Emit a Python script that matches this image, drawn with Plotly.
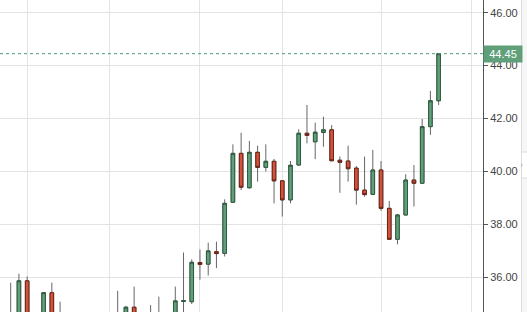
import plotly.graph_objects as go

# Daily OHLC values
opens = [34.30, 34.55, 35.86, 34.50, 34.30, 35.41, 34.60, 34.10, 33.80, 33.50,
         33.80, 34.20, 33.90, 34.30, 34.60, 34.86, 34.50, 34.20, 34.50, 34.40,
         34.30, 35.08, 35.07, 36.55, 36.49, 36.96, 36.90, 38.83, 40.68, 39.38,
         40.72, 40.15, 40.38, 39.64, 38.92, 40.24, 41.44, 41.12, 41.47, 41.57,
         40.42, 40.39, 40.12, 39.29, 39.13, 40.05, 38.60, 37.43, 38.35, 39.67,
         39.55, 41.69, 42.67]
highs = [35.79, 36.13, 36.02, 34.65, 35.43, 35.79, 35.07, 34.50, 34.20, 34.00,
         34.40, 34.60, 34.50, 35.48, 34.91, 35.64, 34.60, 34.94, 35.26, 34.65,
         35.64, 36.93, 36.67, 37.04, 37.30, 37.34, 38.94, 41.02, 41.46, 41.15,
         40.97, 41.02, 40.47, 39.67, 40.39, 41.59, 42.51, 41.84, 42.07, 41.75,
         40.56, 40.97, 40.20, 40.56, 40.81, 40.39, 38.88, 38.39, 39.89, 40.24,
         41.98, 43.04, 44.47]
lows = [34.10, 34.40, 34.30, 34.00, 34.20, 34.40, 34.00, 33.60, 33.30, 33.10,
        33.50, 33.70, 33.60, 34.10, 34.30, 34.30, 34.00, 34.00, 34.10, 33.90,
        34.20, 34.30, 34.98, 35.90, 36.06, 36.34, 36.78, 38.80, 39.29, 39.35,
        39.61, 39.99, 38.79, 38.29, 38.79, 40.22, 41.06, 40.46, 40.93, 40.40,
        39.19, 39.61, 38.74, 39.04, 39.12, 38.51, 37.42, 37.24, 38.34, 38.67,
        39.54, 41.38, 42.51]
closes = [34.60, 35.86, 34.50, 34.20, 35.41, 34.60, 34.10, 33.80, 33.50, 33.80,
          34.20, 33.90, 34.30, 34.60, 34.86, 34.50, 34.20, 34.50, 34.40, 34.30,
          35.10, 35.11, 36.56, 36.48, 36.99, 36.89, 38.79, 40.68, 39.40, 40.72,
          40.15, 40.38, 39.64, 38.92, 40.23, 41.44, 41.36, 41.48, 41.57, 40.40,
          40.34, 40.10, 39.29, 39.12, 40.05, 38.60, 37.43, 38.35, 39.67, 39.55,
          41.69, 42.67, 44.45]
grid_days = [2, 12, 23, 33, 45, 56]
y_ticks = [36, 38, 40, 42, 44, 46]
last_price = 44.45

idx = list(range(len(opens)))
body_hi = [max(o, c) for o, c in zip(opens, closes)]
body_lo = [min(o, c) for o, c in zip(opens, closes)]

GREEN = "#5f9f7a"
RED = "#d4513a"

fig = go.Figure()
# wicks
fig.add_trace(go.Candlestick(
    x=idx, open=opens, high=highs, low=lows, close=closes,
    increasing=dict(line=dict(color="#666666", width=1), fillcolor=GREEN),
    decreasing=dict(line=dict(color="#666666", width=1), fillcolor=RED),
    whiskerwidth=0, hoverinfo="skip", showlegend=False))
# bodies with dark outlines
fig.add_trace(go.Candlestick(
    x=idx, open=opens, high=body_hi, low=body_lo, close=closes,
    increasing=dict(line=dict(color="#2f5b3f", width=1), fillcolor=GREEN),
    decreasing=dict(line=dict(color="#6a2418", width=1), fillcolor=RED),
    whiskerwidth=0, showlegend=False))

W, H = 527, 312
PR = 483  # right edge of plot area
fig.update_layout(
    width=W, height=H,
    margin=dict(l=0, r=W - PR, t=0, b=0),
    paper_bgcolor="white", plot_bgcolor="white",
    boxgap=0.38,
    font=dict(family="Liberation Sans, Arial, sans-serif", size=11, color="#444444"),
    xaxis=dict(range=[-1.30, 57.39], rangeslider=dict(visible=False),
               tickvals=grid_days, showticklabels=False, ticks="",
               showgrid=True, gridcolor="#e3e3e3", gridwidth=1,
               zeroline=False, showline=False, fixedrange=True),
    yaxis=dict(side="right", range=[34.68, 46.48], tickvals=y_ticks,
               tickformat=".2f", ticks="outside", ticklen=4, tickcolor="#555555",
               showgrid=True, gridcolor="#e3e3e3", gridwidth=1,
               zeroline=False, showline=True, linecolor="#555555", linewidth=1,
               tickfont=dict(size=11, color="#444444")),
)

# dotted last-price line
fig.add_shape(type="line", xref="paper", yref="y", x0=0, x1=1,
              y0=last_price, y1=last_price,
              line=dict(color="#4f9a82", width=1, dash="dot"))
# last-price tag
fig.add_annotation(xref="paper", yref="y", x=1, y=last_price, xanchor="left",
                   yanchor="middle", text=f"{last_price:.2f}", showarrow=False,
                   bgcolor="#5f9f7a", font=dict(color="white", size=11),
                   width=34, height=12, borderpad=2, align="center")

# right-side scroll strip
px = lambda p: p / PR
fig.add_shape(type="rect", xref="paper", yref="paper", x0=px(521.5), x1=px(530),
              y0=0, y1=1, fillcolor="#f6f6f6", line=dict(width=0), layer="below")
fig.add_shape(type="line", xref="paper", yref="paper", x0=px(521.5), x1=px(521.5),
              y0=0, y1=1, line=dict(color="#dcdcdc", width=1))
fig.add_shape(type="rect", xref="paper", yref="paper", x0=px(521.5), x1=px(530),
              y0=1 - 178 / H, y1=1 - 152 / H, fillcolor="#ffffff",
              line=dict(color="#dcdcdc", width=1))
fig.add_annotation(xref="paper", yref="paper", x=px(524.5), y=1 - 165 / H,
                   text="›", showarrow=False, font=dict(size=9, color="#b0b0b0"))

fig.write_html("out.html")
